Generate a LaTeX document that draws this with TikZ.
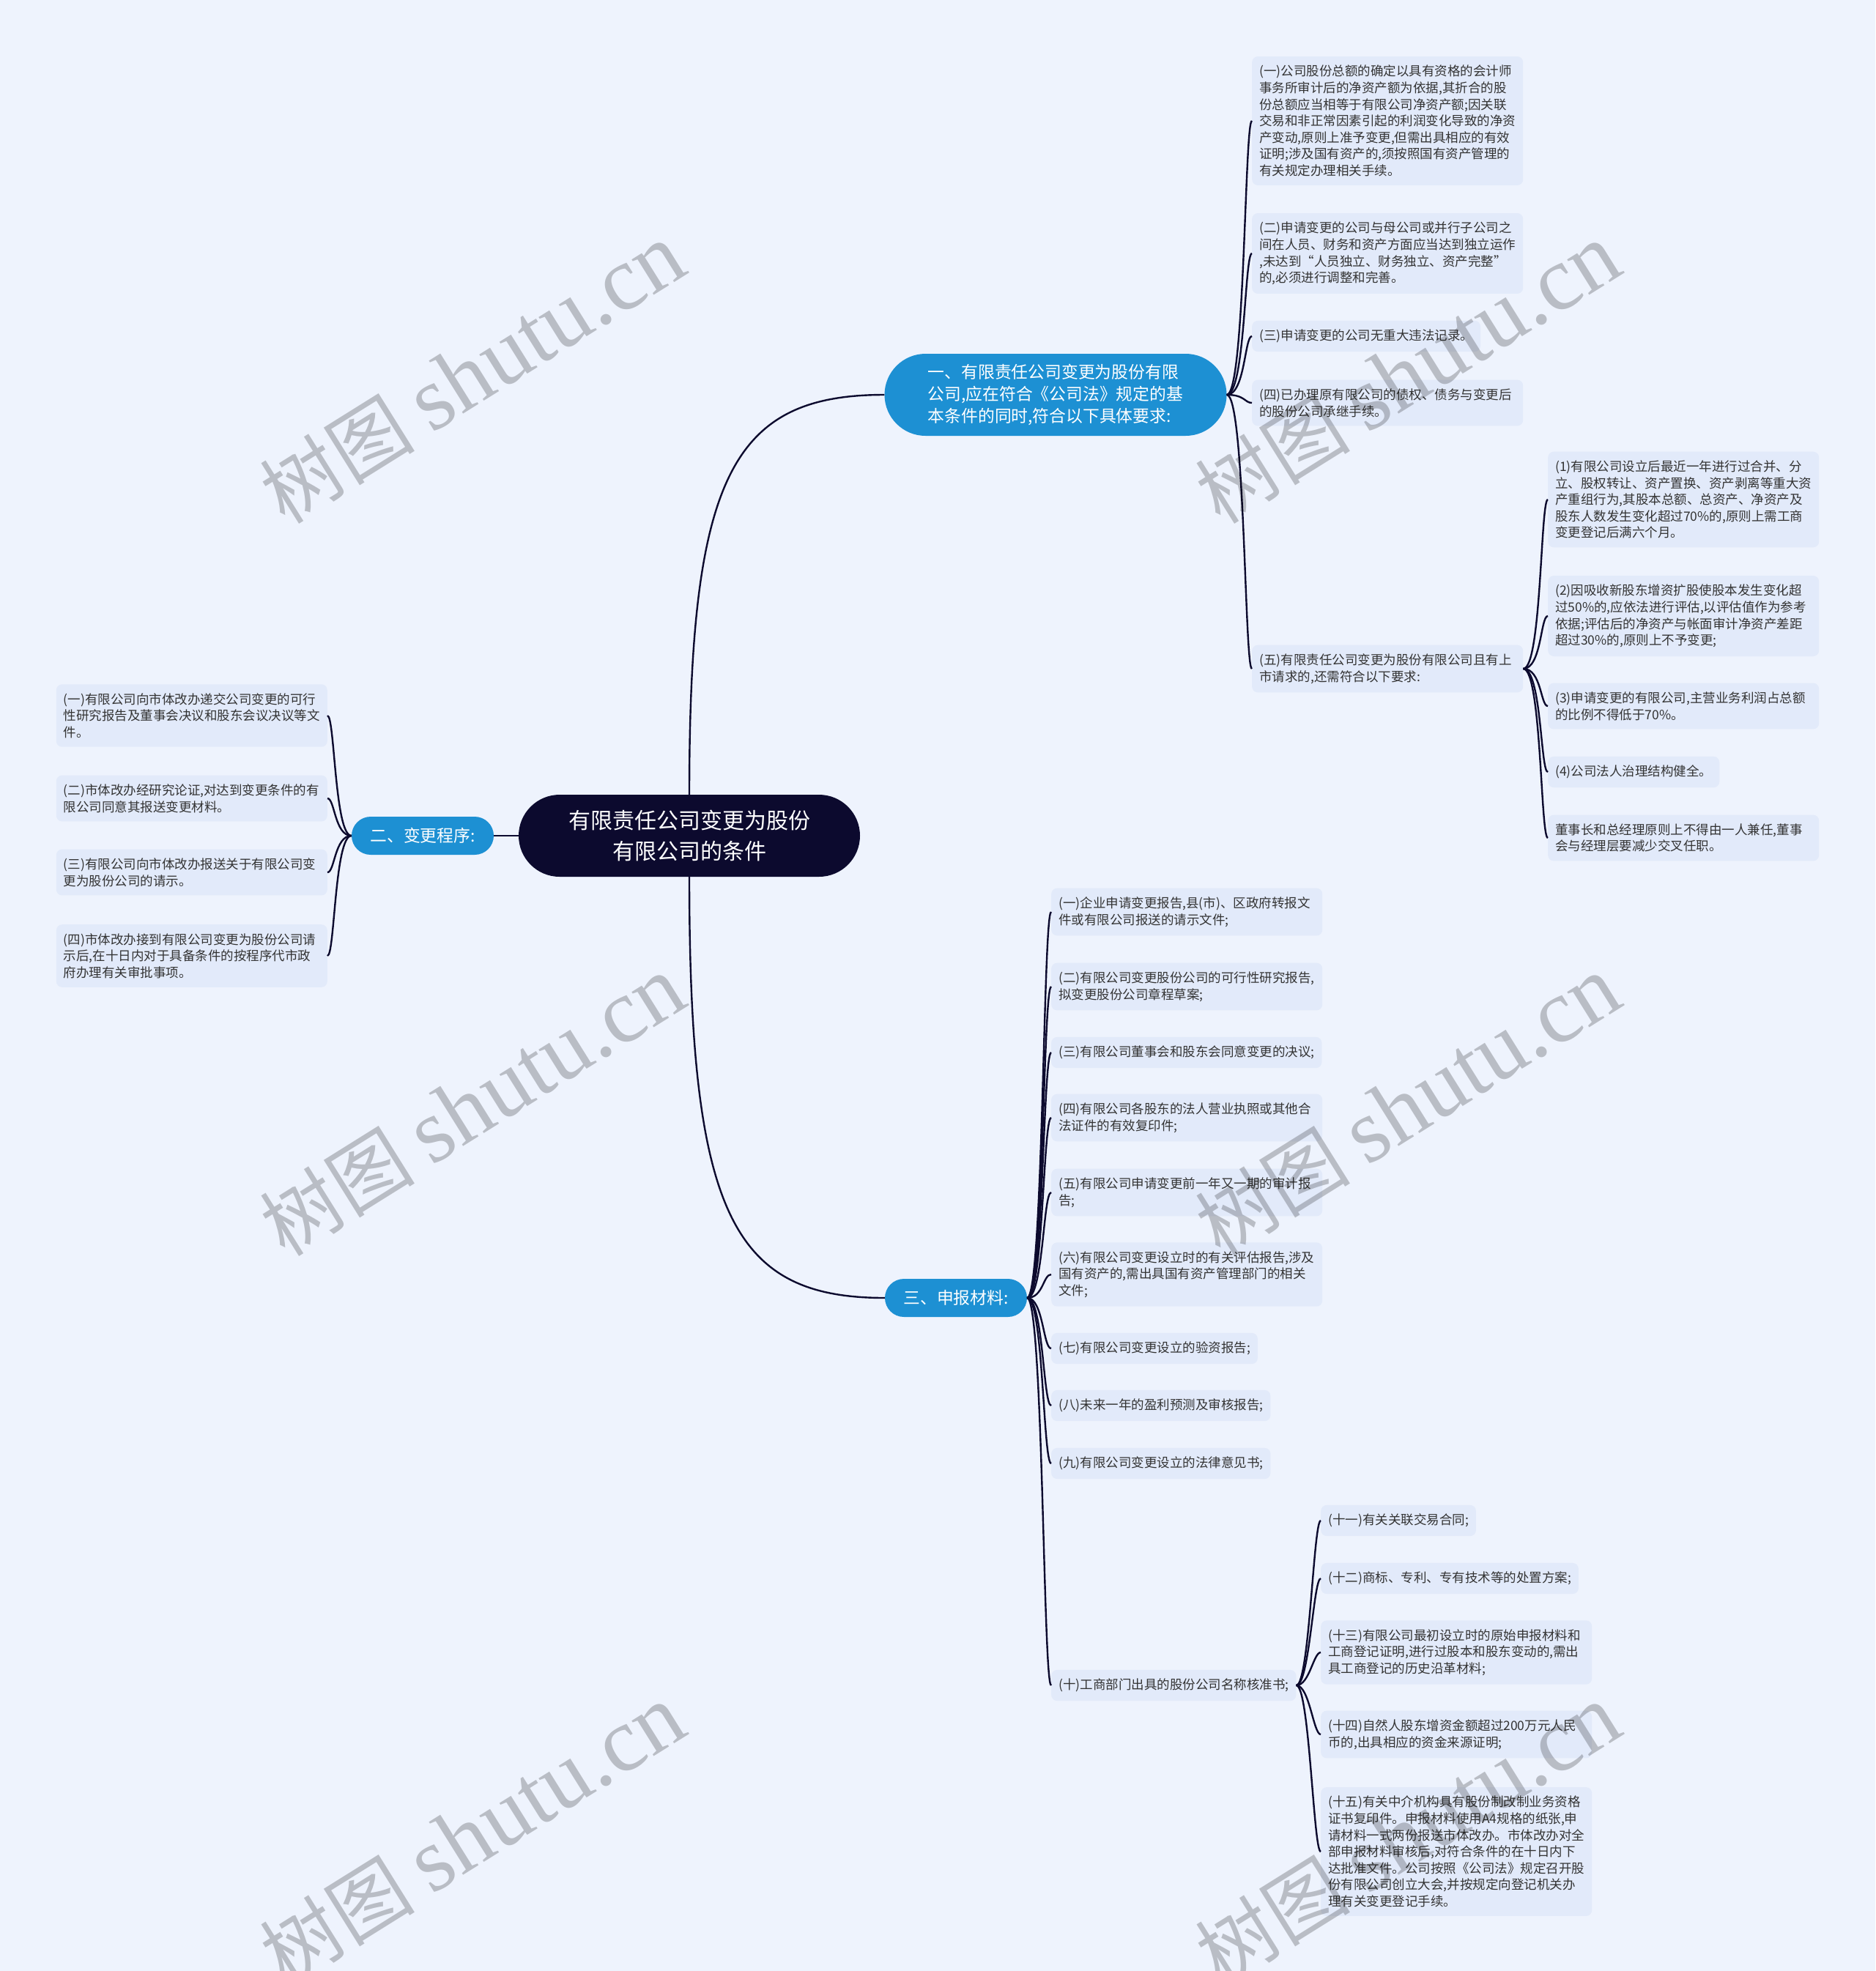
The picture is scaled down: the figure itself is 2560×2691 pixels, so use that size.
\documentclass[tikz,border=0pt]{standalone}
\usepackage{fontspec}
\setmainfont{Noto Sans CJK SC}
\newfontfamily\wmlatin{Liberation Serif}
\definecolor{pagebg}{RGB}{238,243,253}
\definecolor{leafbg}{RGB}{226,234,250}
\definecolor{rootnavy}{RGB}{12,10,46}
\definecolor{topicblue}{RGB}{29,144,211}
\definecolor{leaftext}{RGB}{51,51,51}

\begin{document}
\begin{tikzpicture}[x=1pt, y=-1pt,
  root/.style={fill=rootnavy, text=white, rounded corners=56pt, minimum width=466pt,
    minimum height=112pt, align=center, font=\fontsize{30}{42}\selectfont},
  topic/.style={fill=topicblue, text=white, rounded corners=26pt, minimum width=194pt,
    minimum height=52pt, align=left, font=\fontsize{22.8}{30}\selectfont},
  leaf/.style={fill=leafbg, text=leaftext, rounded corners=8pt, inner xsep=10pt,
    inner ysep=12pt, align=left, font=\fontsize{17.5}{22.6}\selectfont},
  leafw/.style={leaf, text width=350pt},
  conn/.style={draw=rootnavy, line width=2.4pt},
  wmark/.style={rotate=32, text=black, text opacity=0.22, font=\fontsize{106}{106}\selectfont},
]
% Page and fixed bounding box
\fill[pagebg] (0,0) rectangle (2560,2691);
\useasboundingbox (0,0) rectangle (2560,2691);

% Centre and main topics
\node[root] (root) at (941,1141) {有限责任公司变更为股份\\有限公司的条件};
\node[topic, rounded corners=56pt, minimum width=467pt, minimum height=112pt]
  (cond) at (1441,539) {一、有限责任公司变更为股份有限\\公司,应在符合《公司法》规定的基\\本条件的同时,符合以下具体要求:};
\node[topic] (proc) at (577,1141) {二、变更程序:};
\node[topic] (docs) at (1305,1772) {三、申报材料:};

% Requirements (right, top)
\node[leafw, anchor=west] (cond1) at (1709,165) {(一)公司股份总额的确定以具有资格的会计师\\事务所审计后的净资产额为依据,其折合的股\\份总额应当相等于有限公司净资产额;因关联\\交易和非正常因素引起的利润变化导致的净资\\产变动,原则上准予变更,但需出具相应的有效\\证明;涉及国有资产的,须按照国有资产管理的\\有关规定办理相关手续。};
\node[leafw, anchor=west] (cond2) at (1709,346) {(二)申请变更的公司与母公司或并行子公司之\\间在人员、财务和资产方面应当达到独立运作\\,未达到“人员独立、财务独立、资产完整”\\的,必须进行调整和完善。};
\node[leaf, anchor=west] (cond3) at (1709,459) {(三)申请变更的公司无重大违法记录。};
\node[leafw, anchor=west] (cond4) at (1709,550) {(四)已办理原有限公司的债权、债务与变更后\\的股份公司承继手续。};
\node[leafw, anchor=west] (cond5) at (1709,913) {(五)有限责任公司变更为股份有限公司且有上\\市请求的,还需符合以下要求:};

% Listing requirements
\node[leafw, anchor=west] (list1) at (2113,682) {(1)有限公司设立后最近一年进行过合并、分\\立、股权转让、资产置换、资产剥离等重大资\\产重组行为,其股本总额、总资产、净资产及\\股东人数发生变化超过70\%的,原则上需工商\\变更登记后满六个月。};
\node[leafw, anchor=west] (list2) at (2113,841) {(2)因吸收新股东增资扩股使股本发生变化超\\过50\%的,应依法进行评估,以评估值作为参考\\依据;评估后的净资产与帐面审计净资产差距\\超过30\%的,原则上不予变更;};
\node[leafw, anchor=west] (list3) at (2113,964) {(3)申请变更的有限公司,主营业务利润占总额\\的比例不得低于70\%。};
\node[leaf, anchor=west] (list4) at (2113,1054) {(4)公司法人治理结构健全。};
\node[leafw, anchor=west] (list5) at (2113,1144) {董事长和总经理原则上不得由一人兼任,董事\\会与经理层要减少交叉任职。};

% Procedure (left)
\node[leafw, anchor=east] (proc1) at (447,977) {(一)有限公司向市体改办递交公司变更的可行\\性研究报告及董事会决议和股东会议决议等文\\件。};
\node[leafw, anchor=east] (proc2) at (447,1090) {(二)市体改办经研究论证,对达到变更条件的有\\限公司同意其报送变更材料。};
\node[leafw, anchor=east] (proc3) at (447,1191) {(三)有限公司向市体改办报送关于有限公司变\\更为股份公司的请示。};
\node[leafw, anchor=east] (proc4) at (447,1305) {(四)市体改办接到有限公司变更为股份公司请\\示后,在十日内对于具备条件的按程序代市政\\府办理有关审批事项。};

% Documents (right, bottom)
\node[leafw, anchor=west] (doc1) at (1435,1245) {(一)企业申请变更报告,县(市)、区政府转报文\\件或有限公司报送的请示文件;};
\node[leafw, anchor=west] (doc2) at (1435,1347) {(二)有限公司变更股份公司的可行性研究报告,\\拟变更股份公司章程草案;};
\node[leaf, anchor=west] (doc3) at (1435,1437) {(三)有限公司董事会和股东会同意变更的决议;};
\node[leafw, anchor=west] (doc4) at (1435,1526) {(四)有限公司各股东的法人营业执照或其他合\\法证件的有效复印件;};
\node[leafw, anchor=west] (doc5) at (1435,1628) {(五)有限公司申请变更前一年又一期的审计报\\告;};
\node[leafw, anchor=west] (doc6) at (1435,1740) {(六)有限公司变更设立时的有关评估报告,涉及\\国有资产的,需出具国有资产管理部门的相关\\文件;};
\node[leaf, anchor=west] (doc7) at (1435,1841) {(七)有限公司变更设立的验资报告;};
\node[leaf, anchor=west] (doc8) at (1435,1919) {(八)未来一年的盈利预测及审核报告;};
\node[leaf, anchor=west] (doc9) at (1435,1998) {(九)有限公司变更设立的法律意见书;};
\node[leaf, anchor=west] (doc10) at (1435,2301) {(十)工商部门出具的股份公司名称核准书;};

% Extra documents under (十)
\node[leaf, anchor=west] (ext1) at (1803,2076) {(十一)有关关联交易合同;};
\node[leaf, anchor=west] (ext2) at (1803,2155) {(十二)商标、专利、专有技术等的处置方案;};
\node[leafw, anchor=west] (ext3) at (1803,2256) {(十三)有限公司最初设立时的原始申报材料和\\工商登记证明,进行过股本和股东变动的,需出\\具工商登记的历史沿革材料;};
\node[leafw, anchor=west] (ext4) at (1803,2368) {(十四)自然人股东增资金额超过200万元人民\\币的,出具相应的资金来源证明;};
\node[leafw, anchor=west] (ext5) at (1803,2528) {(十五)有关中介机构具有股份制改制业务资格\\证书复印件。申报材料使用A4规格的纸张,申\\请材料一式两份报送市体改办。市体改办对全\\部申报材料审核后,对符合条件的在十日内下\\达批准文件。公司按照《公司法》规定召开股\\份有限公司创立大会,并按规定向登记机关办\\理有关变更登记手续。};

% Main branches
\draw[conn] (root.north) .. controls +(0,-434) and +(-208,0) .. (cond.west);
\draw[conn] (root.south) .. controls +(0,460) and +(-208,0) .. (docs.west);
\draw[conn] (root.west) -- (proc.east);

% Sub-branches
\draw[conn] (cond.east) .. controls +(25,0) and +(-10,0) .. (cond1.west);
\draw[conn] (cond.east) .. controls +(25,0) and +(-10,0) .. (cond2.west);
\draw[conn] (cond.east) .. controls +(25,0) and +(-10,0) .. (cond3.west);
\draw[conn] (cond.east) .. controls +(25,0) and +(-10,0) .. (cond4.west);
\draw[conn] (cond.east) .. controls +(25,0) and +(-10,0) .. (cond5.west);
\draw[conn] (cond5.east) .. controls +(25,0) and +(-10,0) .. (list1.west);
\draw[conn] (cond5.east) .. controls +(25,0) and +(-10,0) .. (list2.west);
\draw[conn] (cond5.east) .. controls +(25,0) and +(-10,0) .. (list3.west);
\draw[conn] (cond5.east) .. controls +(25,0) and +(-10,0) .. (list4.west);
\draw[conn] (cond5.east) .. controls +(25,0) and +(-10,0) .. (list5.west);
\draw[conn] (proc.west) .. controls +(-23,0) and +(10,0) .. (proc1.east);
\draw[conn] (proc.west) .. controls +(-23,0) and +(10,0) .. (proc2.east);
\draw[conn] (proc.west) .. controls +(-23,0) and +(10,0) .. (proc3.east);
\draw[conn] (proc.west) .. controls +(-23,0) and +(10,0) .. (proc4.east);
\draw[conn] (docs.east) .. controls +(22,0) and +(-11,0) .. (doc1.west);
\draw[conn] (docs.east) .. controls +(22,0) and +(-11,0) .. (doc2.west);
\draw[conn] (docs.east) .. controls +(22,0) and +(-11,0) .. (doc3.west);
\draw[conn] (docs.east) .. controls +(22,0) and +(-11,0) .. (doc4.west);
\draw[conn] (docs.east) .. controls +(22,0) and +(-11,0) .. (doc5.west);
\draw[conn] (docs.east) .. controls +(22,0) and +(-11,0) .. (doc6.west);
\draw[conn] (docs.east) .. controls +(22,0) and +(-11,0) .. (doc7.west);
\draw[conn] (docs.east) .. controls +(22,0) and +(-11,0) .. (doc8.west);
\draw[conn] (docs.east) .. controls +(22,0) and +(-11,0) .. (doc9.west);
\draw[conn] (docs.east) .. controls +(22,0) and +(-11,0) .. (doc10.west);
\draw[conn] (doc10.east) .. controls +(18,0) and +(-10,0) .. (ext1.west);
\draw[conn] (doc10.east) .. controls +(18,0) and +(-10,0) .. (ext2.west);
\draw[conn] (doc10.east) .. controls +(18,0) and +(-10,0) .. (ext3.west);
\draw[conn] (doc10.east) .. controls +(18,0) and +(-10,0) .. (ext4.west);
\draw[conn] (doc10.east) .. controls +(18,0) and +(-10,0) .. (ext5.west);

% Watermarks
\node[wmark] (wm1) at (645,510) {树图 {\wmlatin\fontsize{124}{124}\selectfont shutu.cn}};
\node[wmark] (wm2) at (1922,510) {树图 {\wmlatin\fontsize{124}{124}\selectfont shutu.cn}};
\node[wmark] (wm3) at (645,1510) {树图 {\wmlatin\fontsize{124}{124}\selectfont shutu.cn}};
\node[wmark] (wm4) at (1922,1510) {树图 {\wmlatin\fontsize{124}{124}\selectfont shutu.cn}};
\node[wmark] (wm5) at (645,2505) {树图 {\wmlatin\fontsize{124}{124}\selectfont shutu.cn}};
\node[wmark] (wm6) at (1922,2505) {树图 {\wmlatin\fontsize{124}{124}\selectfont shutu.cn}};
\end{tikzpicture}
\end{document}
